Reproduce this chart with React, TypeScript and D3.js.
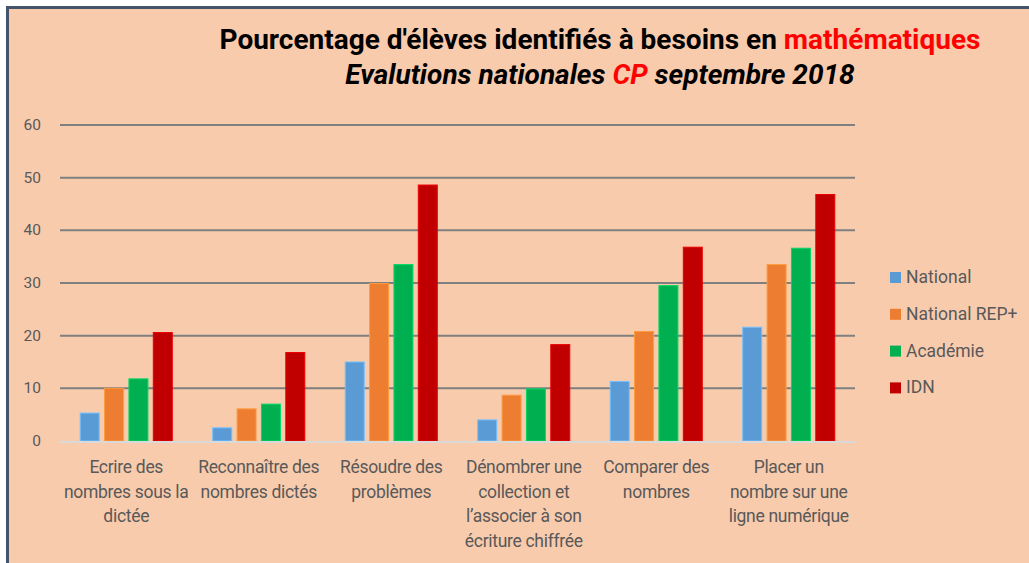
import React, { useEffect, useRef } from "react";
import * as d3 from "d3";

const categories = [
  ["Ecrire des", "nombres sous la", "dictée"],
  ["Reconnaître des", "nombres dictés"],
  ["Résoudre des", "problèmes"],
  ["Dénombrer une", "collection et", "l’associer à son", "écriture chiffrée"],
  ["Comparer des", "nombres"],
  ["Placer un", "nombre sur une", "ligne numérique"],
];

const seriesNames = ["National", "National REP+", "Académie", "IDN"];
const seriesColors = ["#5B9BD5", "#ED7D31", "#00B050", "#C00000"];

const national = [5.3, 2.5, 15.0, 4.0, 11.3, 21.6];
const nationalRep = [10.0, 6.1, 29.9, 8.7, 20.8, 33.5];
const academie = [11.8, 7.0, 33.5, 9.9, 29.5, 36.6];
const idn = [20.6, 16.8, 48.6, 18.3, 36.8, 46.8];

const yTicks = [0, 10, 20, 30, 40, 50, 60];

const FONT = "'Roboto', 'Liberation Sans', sans-serif";

const App = () => {
  const svgRef = useRef<SVGSVGElement>(null);

  useEffect(() => {
    const svg = d3.select(svgRef.current);
    svg.selectAll("*").remove();

    const width = 1029;
    const height = 563;
    const plot = { left: 60, right: 855, top: 125, bottom: 441 };
    const values = [national, nationalRep, academie, idn];

    // background + frame
    svg.append("rect").attr("width", width).attr("height", height).attr("fill", "#fff");
    svg.append("rect")
      .attr("x", 7.5).attr("y", 7.5)
      .attr("width", width).attr("height", height)
      .attr("fill", "#F8CBAD")
      .attr("stroke", "#44546A").attr("stroke-width", 3);

    // title
    const t1 = svg.append("text")
      .attr("x", 600).attr("y", 49)
      .attr("text-anchor", "middle")
      .attr("font-family", FONT)
      .attr("font-weight", "bold")
      .attr("font-size", 28)
      .attr("fill", "#000");
    t1.append("tspan").text("Pourcentage d'élèves identifiés à besoins en ");
    t1.append("tspan").attr("fill", "#FF0000").text("mathématiques");

    const t2 = svg.append("text")
      .attr("x", 600).attr("y", 84)
      .attr("text-anchor", "middle")
      .attr("font-family", FONT)
      .attr("font-weight", "bold")
      .attr("font-style", "italic")
      .attr("font-size", 28)
      .attr("fill", "#000");
    t2.append("tspan").text("Evalutions nationales ");
    t2.append("tspan").attr("fill", "#FF0000").text("CP");
    t2.append("tspan").text(" septembre 2018");

    // scales
    const x0 = d3.scaleBand<number>()
      .domain(d3.range(categories.length))
      .range([plot.left, plot.right])
      .paddingInner(0)
      .paddingOuter(0);

    const x1 = d3.scaleBand<number>()
      .domain(d3.range(seriesNames.length))
      .range([0, x0.bandwidth()])
      .paddingInner(0.22)
      .paddingOuter(0.83);

    const y = d3.scaleLinear()
      .domain([0, 60])
      .range([plot.bottom, plot.top]);

    // gridlines
    svg.append("g")
      .selectAll("line")
      .data(yTicks.filter(d => d > 0))
      .enter()
      .append("line")
      .attr("x1", plot.left).attr("x2", plot.right)
      .attr("y1", d => y(d)).attr("y2", d => y(d))
      .attr("stroke", "#7F7F7F")
      .attr("stroke-width", 2);

    // y labels
    svg.append("g")
      .selectAll("text")
      .data(yTicks)
      .enter()
      .append("text")
      .attr("x", 41)
      .attr("y", d => y(d) + 5)
      .attr("text-anchor", "end")
      .attr("font-family", FONT)
      .attr("font-size", 15.5)
      .attr("fill", "#595959")
      .text(d => d);

    // bars
    values.forEach((vals, s) => {
      svg.append("g")
        .selectAll("rect")
        .data(vals)
        .enter()
        .append("rect")
        .attr("x", (d, i) => (x0(i) as number) + (x1(s) as number))
        .attr("y", d => y(d))
        .attr("width", x1.bandwidth())
        .attr("height", d => y(0) - y(d))
        .attr("fill", seriesColors[s])
        .attr("stroke", d3.color(seriesColors[s])!.brighter(0.6).toString())
        .attr("stroke-width", 1);
    });

    // baseline
    svg.append("line")
      .attr("x1", plot.left).attr("x2", plot.right)
      .attr("y1", y(0) + 1).attr("y2", y(0) + 1)
      .attr("stroke", "#D9D9D9")
      .attr("stroke-width", 2);

    // category labels
    categories.forEach((lines, i) => {
      const cx = (x0(i) as number) + x0.bandwidth() / 2;
      const txt = svg.append("text")
        .attr("text-anchor", "middle")
        .attr("font-family", FONT)
        .attr("font-size", 17.5)
        .attr("letter-spacing", -0.3)
        .attr("fill", "#595959");
      lines.forEach((l, k) => {
        txt.append("tspan")
          .attr("x", cx)
          .attr("y", 473 + k * 24.5)
          .text(l);
      });
    });

    // legend
    const legend = svg.append("g");
    seriesNames.forEach((name, s) => {
      const ly = 277 + s * 36.8;
      legend.append("rect")
        .attr("x", 890).attr("y", ly - 5)
        .attr("width", 11).attr("height", 11)
        .attr("fill", seriesColors[s]);
      legend.append("text")
        .attr("x", 906).attr("y", ly + 6)
        .attr("font-family", FONT)
        .attr("font-size", 17.5)
        .attr("fill", "#595959")
        .text(name);
    });
  }, []);

  return (
    <svg
      ref={svgRef}
      width={1029}
      height={563}
      style={{ position: "absolute", left: 0, top: 0 }}
    ></svg>
  );
};

export default App;
